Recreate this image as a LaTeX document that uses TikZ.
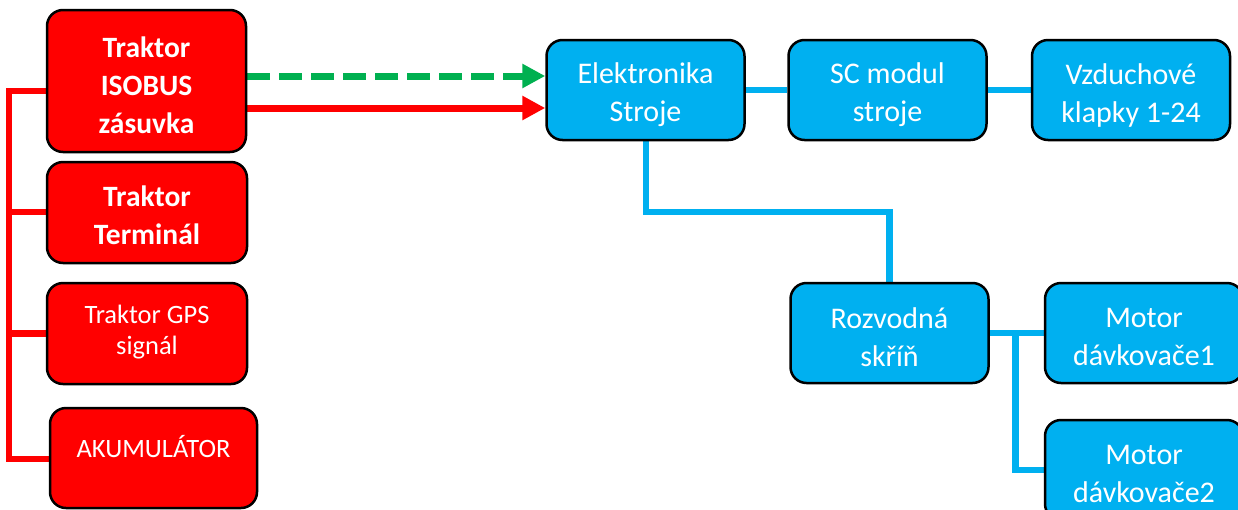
\documentclass[tikz,border=0pt]{standalone}
\usepackage{fontspec}
\setmainfont{Carlito}
\usetikzlibrary{arrows.meta,backgrounds}
\definecolor{boxred}{HTML}{FF0000}
\definecolor{boxblue}{HTML}{00B0F0}
\definecolor{arrgreen}{HTML}{00B050}
\tikzset{
  boxbase/.style={draw=black, line width=2.5pt, rounded corners=16pt, inner sep=0pt},
  redbox/.style={boxbase, fill=boxred},
  bluebox/.style={boxbase, fill=boxblue, minimum width=198pt, minimum height=100pt},
  boxtext/.style={text=white, align=center, inner sep=0pt},
  bluetext/.style={boxtext, font=\fontsize{30}{38}\selectfont},
  bigbold/.style={boxtext, font=\bfseries\fontsize{29.5}{38}\selectfont},
  smalltext/.style={boxtext, font=\fontsize{26.5}{31}\selectfont},
  redline/.style={draw=boxred, line width=6.5pt, line join=miter},
  blueline/.style={draw=boxblue, line width=6.5pt, line join=miter},
  tiparrow/.style={line width=7pt, -{Triangle[length=23pt,width=23pt]}},
}
\begin{document}
\begin{tikzpicture}[x=1pt,y=-1pt]
\clip (0,0) rectangle (1238,509);
\useasboundingbox (0,0) rectangle (1238,509);
% red boxes
\node[redbox, minimum width=199pt, minimum height=142pt] (isobus) at (146.5,81) {};
\node[bigbold] (isobusT) at ([yshift=-4pt]isobus.center) {Traktor\\ISOBUS\\zásuvka};
\node[redbox, minimum width=200pt, minimum height=101pt] (term) at (147,212.5) {};
\node[bigbold] (termT) at ([yshift=-3pt]term.center) {Traktor\\Terminál};
\node[redbox, minimum width=200pt, minimum height=101pt] (gps) at (147,333.5) {};
\node[smalltext] (gpsT) at ([yshift=1pt]gps.center) {Traktor GPS\\signál};
\node[redbox, minimum width=207pt, minimum height=100pt] (akum) at (153.5,458) {};
\node[smalltext] (akumT) at ([yshift=11pt]akum.center) {AKUMULÁTOR};
% blue boxes
\node[bluebox] (elek) at (645.5,90) {};
\node[bluetext] (elekT) at ([yshift=-5pt]elek.center) {Elektronika\\Stroje};
\node[bluebox] (sc) at (887.5,90) {};
\node[bluetext] (scT) at ([yshift=-5pt]sc.center) {SC modul\\stroje};
\node[bluebox] (vzd) at (1131,90) {};
\node[bluetext] (vzdT) at ([yshift=-5pt]vzd.center) {Vzduchové\\klapky 1-24};
\node[bluebox] (roz) at (889.5,333) {};
\node[bluetext] (rozT) at ([yshift=-4pt]roz.center) {Rozvodná\\skříň};
\node[bluebox] (mot1) at (1144,333) {};
\node[bluetext] (mot1T) at ([yshift=-4pt]mot1.center) {Motor\\dávkovače1};
\node[bluebox] (mot2) at (1144,470) {};
\node[bluetext] (mot2T) at ([yshift=-4pt]mot2.center) {Motor\\dávkovače2};
% connectors
\begin{scope}[on background layer]
  \coordinate (b1) at (9,91);
  \coordinate (b2) at (9,212);
  \coordinate (b3) at (9,333.5);
  \coordinate (b4) at (9,459);
  \draw[redline] (b1 -| isobus.west) -- (b1) -- (b4) -- (b4 -| akum.west);
  \draw[redline] (b2) -- (b2 -| term.west);
  \draw[redline] (b3) -- (b3 -| gps.west);
  \coordinate (g1) at (247,76);
  \coordinate (r1) at (247,108);
  \draw[tiparrow, arrgreen, dash pattern=on 23pt off 9pt] (g1) -- (g1 -| elek.west);
  \draw[tiparrow, boxred] (r1) -- (r1 -| elek.west);
  \draw[blueline] (elek.east) -- (sc.west);
  \draw[blueline] (sc.east) -- (vzd.west);
  \coordinate (k1) at (646,212);
  \draw[blueline] (k1 |- elek.south) -- (k1) -- (k1 -| roz.north) -- (roz.north);
  \coordinate (m1) at (1015.5,333);
  \coordinate (m2) at (1015.5,470);
  \draw[blueline] (roz.east) -- (mot1.west);
  \draw[blueline] (m1) -- (m2) -- (mot2.west);
\end{scope}
\end{tikzpicture}
\end{document}
